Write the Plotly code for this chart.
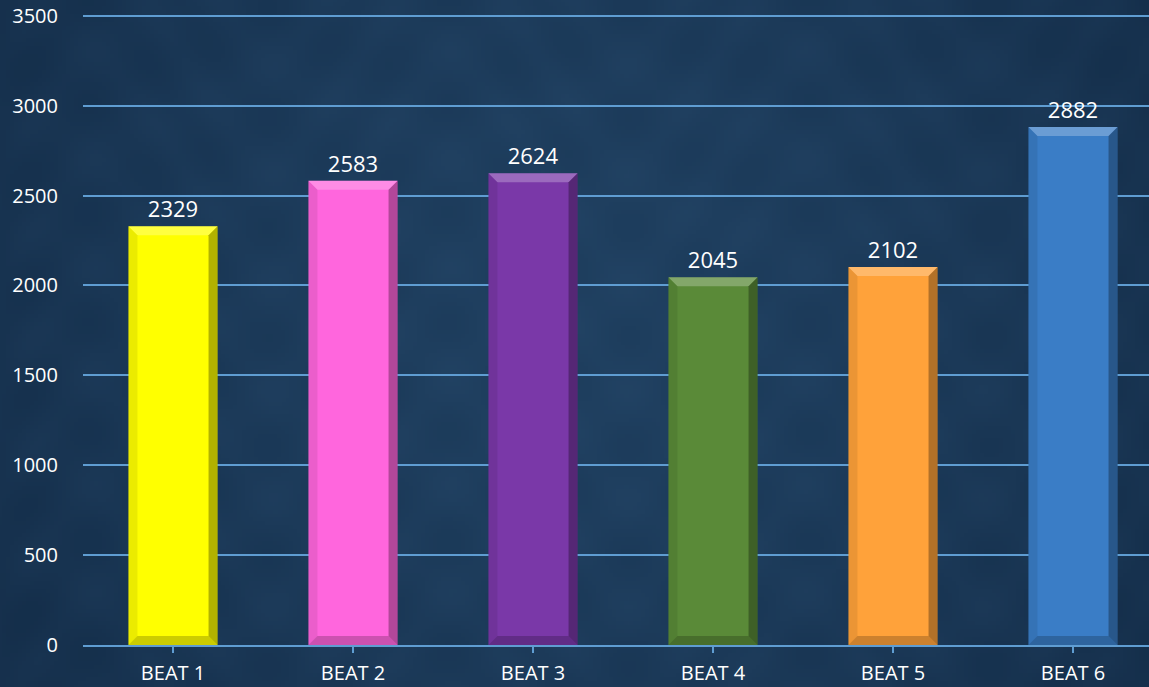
import base64
import struct
import zlib
import math
import plotly.graph_objects as go

categories = ["BEAT 1", "BEAT 2", "BEAT 3", "BEAT 4", "BEAT 5", "BEAT 6"]
values = [2329, 2583, 2624, 2045, 2102, 2882]
colors = ["#ffff00", "#ff66dd", "#7a38a8", "#5a8a38", "#ffa23a", "#3a7dc6"]
y_ticks = [0, 500, 1000, 1500, 2000, 2500, 3000, 3500]

W, H = 1149, 687
Y_TOP = 3510
ML, MR, MB = 83, 0, 42
MT = 16 - round(10 * (687 - 16 - 42) / 3500)
PW = W - ML - MR
PH = H - MT - MB
BAND_PX = 180.0


def make_png(w, h):
    rows = []
    cx, cy = w * 0.5, h * 0.45
    maxd = math.hypot(cx, cy)
    for j in range(h):
        row = bytearray([0])
        for i in range(w):
            d = math.hypot(i - cx, j - cy) / maxd
            t = min(1.0, d) ** 1.6
            pat = 0.5 + 0.5 * math.sin(i * 0.21) * math.sin(j * 0.23 + math.sin(i * 0.07) * 2)
            r = 30 - 10 * t + 4 * pat
            g = 62 - 16 * t + 5 * pat
            b = 94 - 20 * t + 6 * pat
            row += bytes([int(r), int(g), int(b)])
        rows.append(bytes(row))
    raw = b"".join(rows)

    def chunk(tag, data):
        c = tag + data
        return struct.pack(">I", len(data)) + c + struct.pack(">I", zlib.crc32(c) & 0xFFFFFFFF)

    png = b"\x89PNG\r\n\x1a\n"
    png += chunk(b"IHDR", struct.pack(">IIBBBBB", w, h, 8, 2, 0, 0, 0))
    png += chunk(b"IDAT", zlib.compress(raw, 9))
    png += chunk(b"IEND", b"")
    return "data:image/png;base64," + base64.b64encode(png).decode()


bg = make_png(288, 172)

x_idx = list(range(len(categories)))
x_max = -0.5 + PW / BAND_PX

fig = go.Figure()
fig.add_trace(go.Bar(
    x=x_idx,
    y=values,
    marker=dict(color=colors, line=dict(width=0)),
    width=0.495,
    text=[str(v) for v in values],
    textposition="outside",
    textfont=dict(color="white", size=22, family="Open Sans"),
    cliponaxis=False,
    hoverinfo="skip",
))

# bevel overlays computed from data
hw = 0.495 / 2
dx = 9 / BAND_PX
dy = 9 / (PH / Y_TOP)
shapes = []
for i, v in zip(x_idx, values):
    l, r = i - hw, i + hw
    top = f"M {l},{v} L {r},{v} L {r-dx},{v-dy} L {l+dx},{v-dy} Z"
    right = f"M {r},{v} L {r},0 L {r-dx},{dy} L {r-dx},{v-dy} Z"
    bottom = f"M {l},0 L {r},0 L {r-dx},{dy} L {l+dx},{dy} Z"
    left = f"M {l},{v} L {l},0 L {l+dx},{dy} L {l+dx},{v-dy} Z"
    shapes.append(dict(type="path", path=top, xref="x", yref="y", fillcolor="rgba(255,255,255,0.25)", line=dict(width=0)))
    shapes.append(dict(type="path", path=right, xref="x", yref="y", fillcolor="rgba(0,0,0,0.30)", line=dict(width=0)))
    shapes.append(dict(type="path", path=bottom, xref="x", yref="y", fillcolor="rgba(0,0,0,0.20)", line=dict(width=0)))
    shapes.append(dict(type="path", path=left, xref="x", yref="y", fillcolor="rgba(0,0,0,0.08)", line=dict(width=0)))

fig.update_layout(
    width=W,
    height=H,
    margin=dict(l=ML, r=MR, t=MT, b=MB, pad=0, autoexpand=False),
    paper_bgcolor="#1c3b5c",
    plot_bgcolor="rgba(0,0,0,0)",
    showlegend=False,
    font=dict(family="Open Sans", color="white"),
    shapes=shapes,
    images=[dict(
        source=bg, xref="paper", yref="paper",
        x=-ML / PW, y=1 + MT / PH,
        sizex=W / PW, sizey=H / PH,
        sizing="stretch", xanchor="left", yanchor="top",
        layer="below",
    )],
    xaxis=dict(
        range=[-0.5, x_max],
        tickmode="array",
        tickvals=x_idx,
        ticktext=categories,
        tickfont=dict(size=20, color="white", family="Open Sans"),
        showgrid=False,
        zeroline=False,
        showline=True,
        linecolor="#5f9dd2",
        linewidth=2,
        ticks="outside",
        tickson="boundaries",
        ticklen=6,
        tickwidth=2,
        tickcolor="#5f9dd2",
        ticklabelstandoff=3,
        automargin=False,
        fixedrange=True,
    ),
    yaxis=dict(
        range=[0, Y_TOP],
        tickmode="array",
        tickvals=y_ticks,
        ticktext=[str(t) for t in y_ticks],
        tickfont=dict(size=20, color="white", family="Open Sans"),
        showgrid=True,
        gridcolor="#5f9dd2",
        gridwidth=2,
        zeroline=False,
        showline=False,
        ticks="",
        ticklabelstandoff=24,
        automargin=False,
        fixedrange=True,
    ),
)

fig.write_html(
    "out.html",
    config={"displayModeBar": False},
    post_script="document.body.style.margin='0';document.body.style.overflow='hidden';",
)
